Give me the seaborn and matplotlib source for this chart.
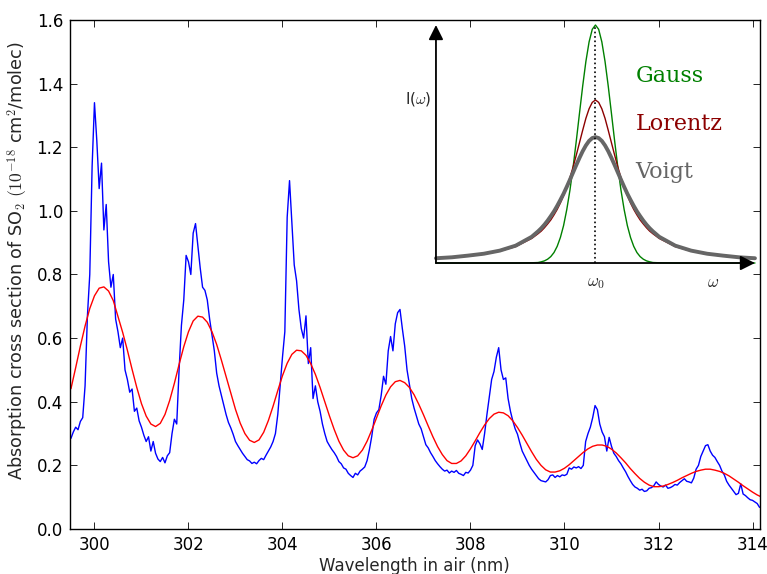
import numpy as np
import pandas as pd
import matplotlib
matplotlib.use("Agg")
import matplotlib.pyplot as plt
import seaborn as sns

# measured SO2 cross section, 299.50 nm onwards in 0.05 nm steps
wl_start, wl_step = 299.50, 0.05
absorb = [
    0.285, 0.305, 0.320, 0.312, 0.338, 0.350, 0.450, 0.670, 0.800, 1.140,
    1.340, 1.220, 1.070, 1.150, 0.940, 1.020, 0.840, 0.760, 0.800, 0.660,
    0.620, 0.570, 0.600, 0.500, 0.470, 0.430, 0.440, 0.370, 0.380, 0.340,
    0.320, 0.295, 0.275, 0.290, 0.245, 0.275, 0.238, 0.220, 0.212, 0.225,
    0.208, 0.230, 0.240, 0.300, 0.345, 0.330, 0.500, 0.640, 0.720, 0.860,
    0.840, 0.800, 0.930, 0.960, 0.890, 0.820, 0.760, 0.750, 0.720, 0.660,
    0.610, 0.560, 0.490, 0.450, 0.420, 0.390, 0.360, 0.335, 0.318, 0.298,
    0.275, 0.262, 0.250, 0.238, 0.228, 0.218, 0.214, 0.206, 0.210, 0.205,
    0.215, 0.222, 0.218, 0.232, 0.245, 0.258, 0.275, 0.300, 0.360, 0.450,
    0.540, 0.620, 0.980, 1.095, 0.960, 0.830, 0.780, 0.690, 0.630, 0.600,
    0.670, 0.520, 0.570, 0.410, 0.450, 0.400, 0.370, 0.330, 0.300, 0.275,
    0.262, 0.250, 0.240, 0.228, 0.212, 0.205, 0.192, 0.188, 0.175, 0.168,
    0.162, 0.175, 0.170, 0.182, 0.188, 0.195, 0.215, 0.250, 0.292, 0.345,
    0.365, 0.375, 0.420, 0.480, 0.455, 0.560, 0.605, 0.560, 0.645, 0.680,
    0.690, 0.630, 0.575, 0.500, 0.455, 0.410, 0.380, 0.355, 0.330, 0.315,
    0.290, 0.265, 0.255, 0.240, 0.228, 0.215, 0.205, 0.196, 0.188, 0.182,
    0.185, 0.176, 0.182, 0.178, 0.184, 0.175, 0.172, 0.168, 0.178, 0.176,
    0.185, 0.200, 0.262, 0.280, 0.268, 0.250, 0.300, 0.360, 0.415, 0.470,
    0.495, 0.540, 0.570, 0.500, 0.470, 0.475, 0.410, 0.370, 0.340, 0.315,
    0.298, 0.270, 0.245, 0.230, 0.215, 0.200, 0.188, 0.178, 0.168, 0.158,
    0.152, 0.150, 0.148, 0.155, 0.168, 0.170, 0.162, 0.168, 0.164, 0.170,
    0.168, 0.172, 0.192, 0.188, 0.195, 0.192, 0.196, 0.190, 0.200, 0.275,
    0.300, 0.320, 0.350, 0.388, 0.375, 0.330, 0.305, 0.290, 0.245, 0.288,
    0.260, 0.238, 0.228, 0.215, 0.205, 0.192, 0.180, 0.165, 0.152, 0.140,
    0.132, 0.128, 0.122, 0.125, 0.118, 0.120, 0.128, 0.130, 0.136, 0.148,
    0.140, 0.135, 0.132, 0.138, 0.128, 0.130, 0.134, 0.140, 0.138, 0.146,
    0.152, 0.158, 0.150, 0.148, 0.145, 0.160, 0.188, 0.200, 0.228, 0.245,
    0.262, 0.265, 0.245, 0.232, 0.225, 0.212, 0.200, 0.182, 0.170, 0.150,
    0.138, 0.128, 0.118, 0.108, 0.112, 0.142, 0.110, 0.105, 0.098, 0.092,
    0.090, 0.085, 0.080, 0.068,
]

# low resolution version (red), 299.5 nm onwards in 0.1 nm steps
smooth_start, smooth_step = 299.5, 0.1
smooth = [
    0.441, 0.507, 0.575, 0.638, 0.693, 0.733, 0.757, 0.761, 0.748, 0.718,
    0.668, 0.618, 0.562, 0.502, 0.445, 0.394, 0.355, 0.330, 0.322, 0.332,
    0.360, 0.404, 0.458, 0.517, 0.573, 0.620, 0.654, 0.669, 0.666, 0.650,
    0.620, 0.580, 0.531, 0.479, 0.426, 0.376, 0.333, 0.300, 0.279, 0.272,
    0.280, 0.304, 0.341, 0.386, 0.435, 0.482, 0.521, 0.549, 0.562, 0.560,
    0.546, 0.520, 0.486, 0.445, 0.400, 0.355, 0.313, 0.276, 0.248, 0.230,
    0.224, 0.230, 0.248, 0.276, 0.311, 0.349, 0.387, 0.421, 0.447, 0.463,
    0.467, 0.460, 0.445, 0.422, 0.392, 0.359, 0.324, 0.290, 0.259, 0.234,
    0.215, 0.206, 0.206, 0.214, 0.230, 0.252, 0.277, 0.303, 0.327, 0.347,
    0.361, 0.367, 0.365, 0.356, 0.340, 0.319, 0.295, 0.269, 0.243, 0.219,
    0.200, 0.186, 0.179, 0.179, 0.183, 0.191, 0.202, 0.215, 0.228, 0.241,
    0.252, 0.260, 0.264, 0.264, 0.260, 0.251, 0.239, 0.224, 0.208, 0.190,
    0.174, 0.159, 0.147, 0.138, 0.133, 0.133, 0.135, 0.140, 0.146, 0.153,
    0.161, 0.168, 0.175, 0.181, 0.185, 0.188, 0.188, 0.185, 0.181, 0.175,
    0.167, 0.157, 0.147, 0.136, 0.126, 0.116, 0.107, 0.100,
]

# inset line profiles
omega = [-5, -4.5, -4, -3.5, -3, -2.5, -2,
         -1.8, -1.7, -1.6, -1.5, -1.4, -1.3, -1.2, -1.1, -1.0, -0.9,
         -0.8, -0.7, -0.6, -0.5, -0.4, -0.3, -0.2, -0.1, 0.0,
         0.1, 0.2, 0.3, 0.4, 0.5, 0.6, 0.7, 0.8, 0.9, 1.0,
         1.1, 1.2, 1.3, 1.4, 1.5, 1.6, 1.7, 1.8,
         2, 2.5, 3, 3.5, 4, 4.5, 5]
gauss = [0, 0, 0, 0, 0, 0, 0.001,
         0.002, 0.005, 0.009, 0.016, 0.027, 0.044, 0.070, 0.107, 0.157, 0.224,
         0.306, 0.404, 0.514, 0.630, 0.744, 0.847, 0.929, 0.982, 1.000,
         0.982, 0.929, 0.847, 0.744, 0.630, 0.514, 0.404, 0.306, 0.224, 0.157,
         0.107, 0.070, 0.044, 0.027, 0.016, 0.009, 0.005, 0.002,
         0.001, 0, 0, 0, 0, 0, 0]
lorentz = [0.019, 0.023, 0.029, 0.037, 0.050, 0.069, 0.103,
           0.123, 0.134, 0.148, 0.164, 0.181, 0.202, 0.225, 0.252, 0.283, 0.319,
           0.359, 0.404, 0.454, 0.506, 0.558, 0.608, 0.648, 0.675, 0.685,
           0.675, 0.648, 0.608, 0.558, 0.506, 0.454, 0.404, 0.359, 0.319, 0.283,
           0.252, 0.225, 0.202, 0.181, 0.164, 0.148, 0.134, 0.123,
           0.103, 0.069, 0.050, 0.037, 0.029, 0.023, 0.019]
voigt = [0.020, 0.024, 0.031, 0.039, 0.052, 0.073, 0.110,
         0.133, 0.146, 0.161, 0.178, 0.197, 0.217, 0.240, 0.265, 0.291, 0.320,
         0.350, 0.381, 0.412, 0.442, 0.470, 0.494, 0.513, 0.525, 0.529,
         0.525, 0.513, 0.494, 0.470, 0.442, 0.412, 0.381, 0.350, 0.320, 0.291,
         0.265, 0.240, 0.217, 0.197, 0.178, 0.161, 0.146, 0.133,
         0.110, 0.073, 0.052, 0.039, 0.031, 0.024, 0.020]

spec = pd.DataFrame({"wl": np.round(wl_start + wl_step * np.arange(len(absorb)), 2),
                     "xs": absorb})
fit = pd.DataFrame({"wl": np.round(smooth_start + smooth_step * np.arange(len(smooth)), 2),
                    "xs": smooth})
prof = pd.DataFrame({"w": omega, "Gauss": gauss, "Lorentz": lorentz, "Voigt": voigt})

sns.set_style("ticks")
plt.rcParams["font.family"] = ["DejaVu Sans"]
plt.rcParams["mathtext.fontset"] = "cm"

fig = plt.figure(figsize=(7.67, 5.74), dpi=100)
ax = fig.add_axes([0.0913, 0.0784, 0.8990, 0.8868])

sns.lineplot(data=spec, x="wl", y="xs", color="b", lw=1, estimator=None, sort=False, ax=ax)
sns.lineplot(data=fit, x="wl", y="xs", color="r", lw=1, estimator=None, sort=False, ax=ax)

ax.set_xlim(299.48, 314.15)
ax.set_ylim(0, 1.6)
ax.set_xticks(np.arange(300, 315, 2))
ax.set_yticks(np.arange(0, 1.61, 0.2))
ax.tick_params(direction="in", top=True, right=True, length=5, width=0.6,
               labelsize=12, colors="k", pad=5)
for s in ax.spines.values():
    s.set_color("k")
    s.set_linewidth(1)
ax.set_xlabel("Wavelength in air (nm)", fontsize=12)
ax.xaxis.set_label_coords(0.5, -0.055)
ax.set_ylabel(r"Absorption cross section of SO$_2$ $(10^{-18}$ cm$^2$/molec)",
              fontsize=12.7)
ax.yaxis.set_label_coords(-0.058, 0.528)

# inset with the three line shapes
ins = fig.add_axes([0.5684, 0.5418, 0.4159, 0.4146])
ins.set_xlim(-5, 5)
ins.set_ylim(0, 1)
ins.axis("off")

for name, col, lw in [("Gauss", (0, 0.5, 0), 1.0),
                      ("Lorentz", (0.55, 0, 0), 1.0),
                      ("Voigt", (0.4, 0.4, 0.4), 2.8)]:
    sns.lineplot(data=prof, x="w", y=name, color=col, lw=lw, estimator=None,
                 sort=False, ax=ins, clip_on=False)

ins.plot([0, 0], [0, 1.0], color="k", ls=":", lw=1.2)

arrow = dict(arrowstyle="-|>", color="k", lw=1.3, mutation_scale=22,
             shrinkA=0, shrinkB=0)
ins.annotate("", xy=(-5, 1.0), xytext=(-5, 0), arrowprops=arrow, annotation_clip=False)
ins.annotate("", xy=(5, 0), xytext=(-5, 0), arrowprops=arrow, annotation_clip=False)

ins.text(1.25, 0.786, "Gauss", color=(0, 0.5, 0), family="DejaVu Serif", fontsize=16, va="center")
ins.text(1.25, 0.584, "Lorentz", color=(0.55, 0, 0), family="DejaVu Serif", fontsize=16, va="center")
ins.text(1.25, 0.382, "Voigt", color=(0.4, 0.4, 0.4), family="DejaVu Serif", fontsize=16, va="center")

ins.text(-5.15, 0.69, r"I($\omega$)", fontsize=11, ha="right", va="center")
ins.text(0, -0.04, r"$\omega_0$", fontsize=12, ha="center", va="top")
ins.text(3.68, -0.04, r"$\omega$", fontsize=12, ha="center", va="top")

fig.savefig("out.png", dpi=100)
